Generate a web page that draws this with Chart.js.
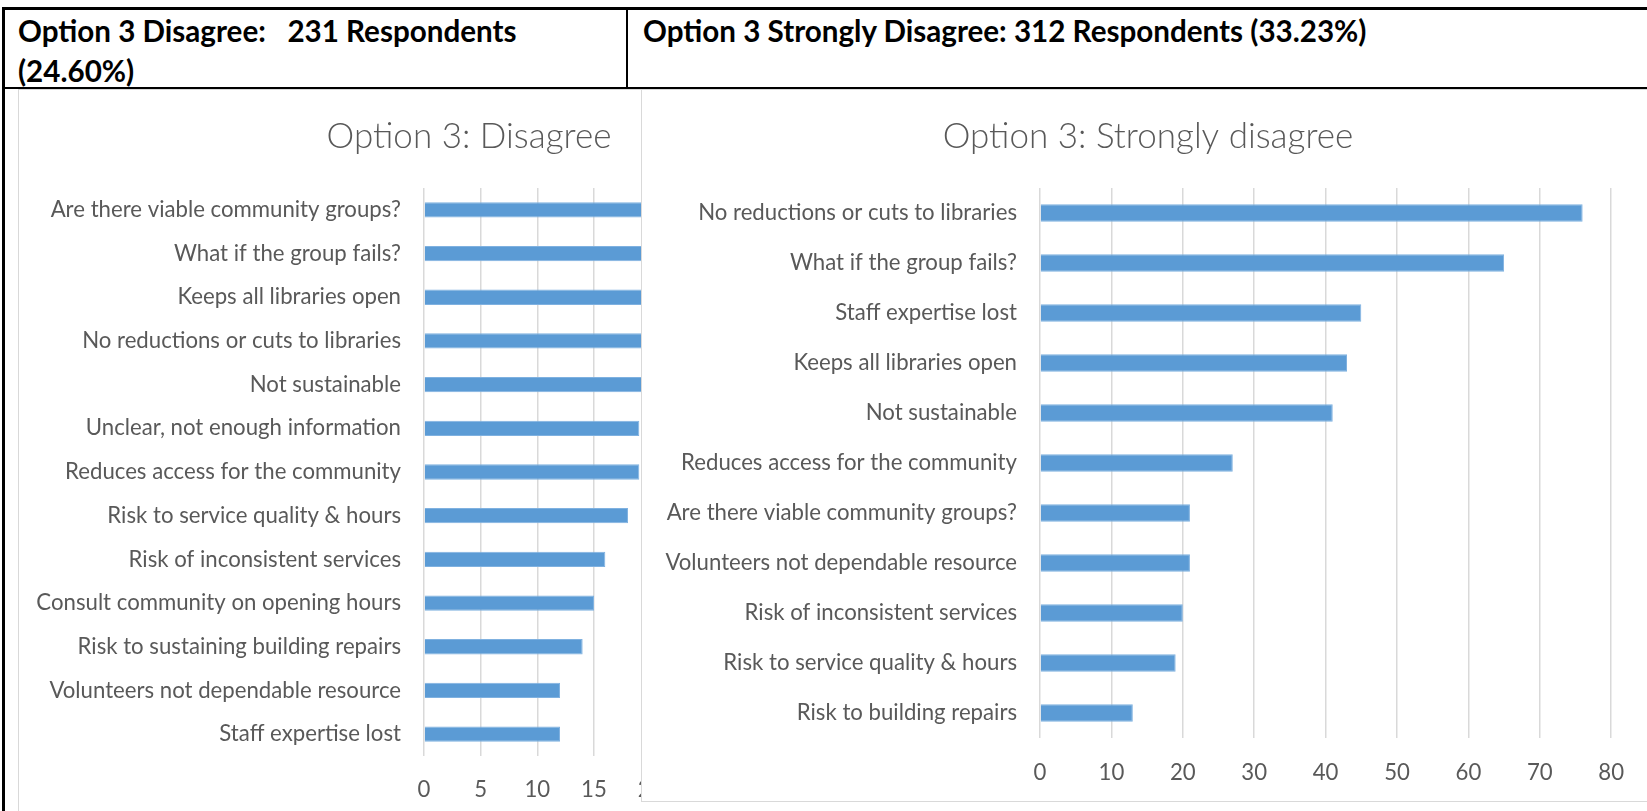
<!DOCTYPE html>
<html>
<head>
<meta charset="utf-8">
<title>Option 3 responses</title>
<script src="https://cdn.jsdelivr.net/npm/chart.js@4.4.1/dist/chart.umd.min.js"></script>
<style>
    body {
        margin: 0;
        background: #fff;
        width: 1647px;
        height: 811px;
        overflow: hidden;
        position: relative;
        font-family: Lato, "Open Sans", sans-serif;
    }
    .line { position: absolute; background: #000; }
    .hdr {
        position: absolute;
        font-weight: bold;
        font-size: 29.6px;
        line-height: 40px;
        color: #000;
        white-space: nowrap;
    }
    .chartBox {
        position: absolute;
        background: #fff;
        border: 1px solid #d9d9d9;
        box-sizing: border-box;
    }
    .chartBox canvas { display: block; }
</style>
</head>
<body>

<!-- table lines -->
<div class="line" style="left:2px;top:7px;width:1645px;height:3px;"></div>
<div class="line" style="left:2px;top:7px;width:3px;height:804px;"></div>
<div class="line" style="left:2px;top:87px;width:1645px;height:2px;"></div>
<div class="line" style="left:626px;top:7px;width:2px;height:81px;"></div>

<!-- table headers -->
<div class="hdr" style="left:18px;top:11px;">Option 3 Disagree:&nbsp;&nbsp; 231 Respondents<br>(24.60%)</div>
<div class="hdr" style="left:643px;top:11px;">Option 3 Strongly Disagree: 312 Respondents (33.23%)</div>

<!-- left chart (partly covered by the right one) -->
<div class="chartBox" id="leftBox" style="left:18px;top:89px;width:902px;height:760px;border-right:none;">
    <canvas id="leftChart" width="900" height="758"></canvas>
</div>

<!-- right chart -->
<div class="chartBox" id="rightBox" style="left:641px;top:89px;width:1014px;height:713px;">
    <canvas id="rightChart" width="1012" height="711"></canvas>
</div>

<script>
//left chart data (top to bottom)
const leftTitle = "Option 3: Disagree";
const leftCategories = [
    "Are there viable community groups?",
    "What if the group fails?",
    "Keeps all libraries open",
    "No reductions or cuts to libraries",
    "Not sustainable",
    "Unclear, not enough information",
    "Reduces access for the community",
    "Risk to service quality & hours",
    "Risk of inconsistent services",
    "Consult community on opening hours",
    "Risk to sustaining building repairs",
    "Volunteers not dependable resource",
    "Staff expertise lost"
];
const leftValues = [38, 31, 26, 22, 20, 19, 19, 18, 16, 15, 14, 12, 12];
const leftAxisMax = 40;
const leftAxisStep = 5;

//right chart data (top to bottom)
const rightTitle = "Option 3: Strongly disagree";
const rightCategories = [
    "No reductions or cuts to libraries",
    "What if the group fails?",
    "Staff expertise lost",
    "Keeps all libraries open",
    "Not sustainable",
    "Reduces access for the community",
    "Are there viable community groups?",
    "Volunteers not dependable resource",
    "Risk of inconsistent services",
    "Risk to service quality & hours",
    "Risk to building repairs"
];
const rightValues = [76, 65, 45, 43, 41, 27, 21, 21, 20, 19, 13];
const rightAxisMax = 80;
const rightAxisStep = 10;

const barColor = "#5B9BD5";
const textColor = "#595959";
const gridColor = "#d9d9d9";

//let the category labels use the left padding too (otherwise they get clipped)
const labelRoom = {
    id: 'labelRoom',
    afterLayout: function (chart) {
        chart.scales.y.left = 0;
    }
};

//build a horizontal bar chart
//side padding is the same on both sides so the title stays centred on the canvas
function barChart(canvasId, title, categories, values, axisMax, axisStep, yAxisWidth, side, bottom, tickPad) {
    const ctx = document.getElementById(canvasId).getContext('2d');
    return new Chart(ctx, {
        type: 'bar',
        data: {
            labels: categories,
            datasets: [{
                data: values,
                backgroundColor: barColor,
                borderColor: "#7fb1e0",
                borderWidth: 1,
                barPercentage: 0.35,
                categoryPercentage: 1
            }]
        },
        plugins: [labelRoom],
        options: {
            indexAxis: 'y',
            responsive: false,
            animation: false,
            devicePixelRatio: 1,
            layout: {
                padding: { left: side, right: side, top: 0, bottom: bottom }
            },
            plugins: {
                legend: { display: false },
                tooltip: { enabled: false },
                title: {
                    display: true,
                    text: title,
                    color: textColor,
                    font: { family: "Lato", size: 35, weight: 300 },
                    padding: { top: 26, bottom: 30 }
                }
            },
            scales: {
                x: {
                    min: 0,
                    max: axisMax,
                    grid: { color: gridColor, lineWidth: 1.5, drawTicks: false },
                    border: { display: false },
                    ticks: {
                        stepSize: axisStep,
                        color: textColor,
                        padding: tickPad,
                        font: { family: "Lato", size: 22.2 }
                    },
                    afterFit: function (scale) {
                        scale.height = 62;//keep the axis height fixed
                    }
                },
                y: {
                    grid: { display: false, drawTicks: false },
                    border: { display: false },
                    ticks: {
                        color: textColor,
                        padding: 23,
                        autoSkip: false,
                        font: { family: "Lato", size: 22.2 }
                    },
                    afterFit: function (scale) {
                        scale.width = yAxisWidth;//fix the label column width
                    }
                }
            }
        }
    });
}

barChart('leftChart', leftTitle, leftCategories, leftValues, leftAxisMax, leftAxisStep,
    405 - 41.7, 41.7, 30, 20.5);
barChart('rightChart', rightTitle, rightCategories, rightValues, rightAxisMax, rightAxisStep,
    398 - 42.8, 42.8, 1, 22);
</script>
</body>
</html>
